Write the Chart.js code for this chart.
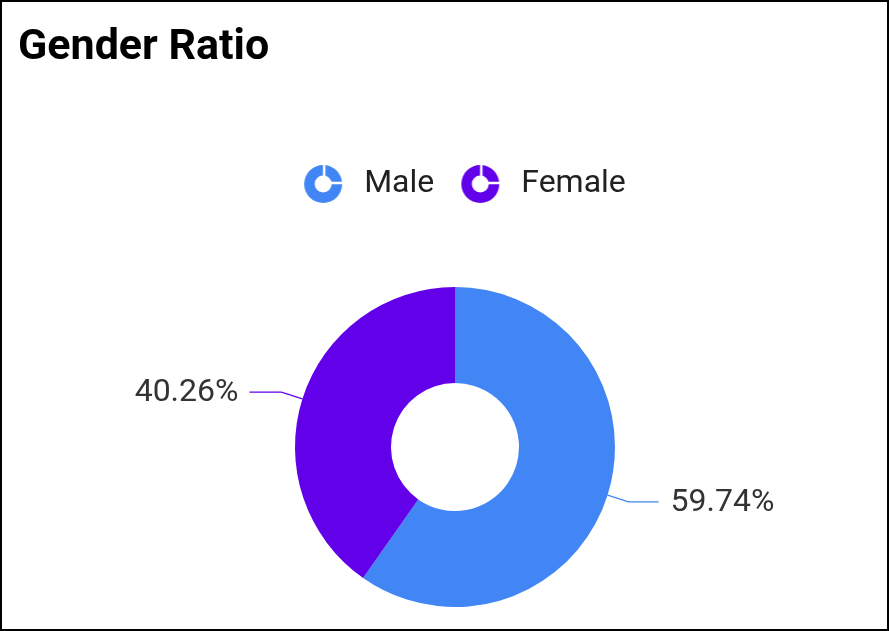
<!DOCTYPE html>
<html>
<head>
<meta charset="utf-8">
<script src="https://cdn.jsdelivr.net/npm/chart.js@4.4.1/dist/chart.umd.min.js"></script>
<style>
  html, body { margin: 0; padding: 0; background: #fff; }
  #card {
    position: relative;
    width: 885px;
    height: 627px;
    border: 2px solid #000;
    background: #fff;
  }
  #title {
    position: absolute;
    left: 16px;
    top: 21px;
    margin: 0;
    font: 700 43px Roboto, sans-serif;
    line-height: 43px;
    color: #000;
  }
  #genderChart { position: absolute; left: 0; top: 0; }
</style>
</head>
<body>
<div id="card">
  <canvas id="genderChart" width="885" height="627"></canvas>
  <h1 id="title">Gender Ratio</h1>
</div>
<script>
const genders = ["Male", "Female"];
const genderShare = [59.74, 40.26];
const genderColors = ["#4285F4", "#6200EA"];

// icon like the little donut used in the legend
function makeRingIcon(color) {
  const c = document.createElement("canvas");
  c.width = 40;
  c.height = 40;
  const g = c.getContext("2d");
  g.fillStyle = color;
  g.beginPath();
  g.arc(20, 20, 19, 0, Math.PI * 2);
  g.arc(20, 20, 8.5, 0, Math.PI * 2, true);
  g.fill();
  g.strokeStyle = "#fff";
  g.lineWidth = 2.5;
  g.beginPath();
  g.moveTo(21, 20);
  g.lineTo(21, 0);
  g.moveTo(20, 19);
  g.lineTo(40, 19);
  g.stroke();
  return c;
}
const ringIcons = genderColors.map(makeRingIcon);

/* ==== labels outside with a bent leader line ==== */
const outsideLabels = {
  id: "outsideLabels",
  afterDatasetsDraw(chart) {
    const { ctx } = chart;
    const meta = chart.getDatasetMeta(0);
    const values = chart.data.datasets[0].data;
    const total = values.reduce((a, b) => a + b, 0);

    ctx.save();
    ctx.font = "32px Roboto";
    ctx.textBaseline = "middle";
    meta.data.forEach((arc, i) => {
      const { x, y, startAngle, endAngle, outerRadius } = arc.getProps(
        ["x", "y", "startAngle", "endAngle", "outerRadius"], true);
      const mid = (startAngle + endAngle) / 2;
      const cos = Math.cos(mid), sin = Math.sin(mid);
      const right = cos >= 0;
      const ex = x + outerRadius * cos, ey = y + outerRadius * sin;
      const bx = x + (outerRadius + 22) * cos, by = y + (outerRadius + 22) * sin;
      const hx = bx + (right ? 30 : -32);

      ctx.strokeStyle = genderColors[i];
      ctx.lineWidth = 1.3;
      ctx.beginPath();
      ctx.moveTo(ex, ey);
      ctx.lineTo(bx, by);
      ctx.lineTo(hx, by);
      ctx.stroke();

      ctx.fillStyle = "#333";
      ctx.textAlign = right ? "left" : "right";
      const pct = (values[i] / total * 100).toFixed(2) + "%";
      ctx.fillText(pct, hx + (right ? 12 : -11), by + 1);
    });
    ctx.restore();
  }
};

/* ==== extra room under the legend, legend nudged right ==== */
const legendGap = {
  id: "legendGap",
  beforeInit(chart) {
    const fit = chart.legend.fit;
    chart.legend.fit = function () {
      fit.bind(chart.legend)();
      this.height += 77;
    };
  },
  afterLayout(chart) {
    chart.legend.left += 7;
    chart.legend.right += 7;
  }
};

const ctx = document.getElementById("genderChart").getContext("2d");
new Chart(ctx, {
  type: "doughnut",
  data: {
    labels: genders,
    datasets: [{
      data: genderShare,
      backgroundColor: genderColors,
      borderWidth: 0
    }]
  },
  options: {
    responsive: false,
    animation: false,
    cutout: "40%",
    layout: {
      padding: { top: 145, bottom: 22, left: 21, right: 0 }
    },
    plugins: {
      legend: {
        display: true,
        position: "top",
        labels: {
          usePointStyle: true,
          pointStyleWidth: 50,
          padding: 21,
          color: "#212121",
          font: { family: "Roboto", size: 32 },
          generateLabels(chart) {
            return chart.data.labels.map((label, i) => ({
              text: label,
              fillStyle: genderColors[i],
              strokeStyle: genderColors[i],
              fontColor: "#212121",
              lineWidth: 0,
              pointStyle: ringIcons[i],
              hidden: !chart.getDataVisibility(i),
              index: i
            }));
          }
        }
      },
      tooltip: { enabled: false }
    }
  },
  plugins: [legendGap, outsideLabels]
});
</script>
</body>
</html>
